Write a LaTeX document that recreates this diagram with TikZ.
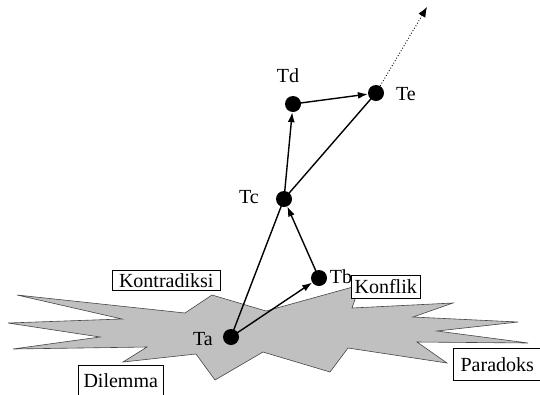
\documentclass[tikz,border=0pt]{standalone}
\usepackage{fontspec}
\setmainfont{Liberation Serif}
\usetikzlibrary{arrows.meta}
\begin{document}
\begin{tikzpicture}[x=1pt,y=-1pt,
  dot/.style={circle,fill=black,inner sep=0pt,minimum size=16pt},
  lbl/.style={font=\fontsize{20}{22}\selectfont,inner sep=0pt},
  tagbox/.style={draw=black,line width=0.5pt,fill=white,font=\fontsize{20}{22}\selectfont,inner sep=0pt,anchor=north west},
  link/.style={line width=1.4pt,-{Latex[length=10pt,width=7pt]}},
  plain/.style={line width=1.4pt},
  lead/.style={line width=0.9pt,dotted,-{Latex[length=10pt,width=8pt]}}]
\useasboundingbox (0,0) rectangle (540,394);
\clip (0,0) rectangle (540,394);
% star-shaped area
\draw[fill={rgb,255:red,192;green,192;blue,192},draw={rgb,255:red,70;green,70;blue,70},line width=0.6pt]
  (17,295) -- (185,313) -- (212,295) -- (266,311) -- (360,285) -- (352,308)
  -- (453,303) -- (413,317) -- (518,322) -- (437,331) -- (528,343) -- (417,342)
  -- (447,363) -- (348,348) -- (330,372) -- (263,352) -- (215,380) -- (196,354)
  -- (123,362) -- (147,347) -- (13,349) -- (100,337) -- (8,323) -- (122,319) -- cycle;
% boxes
\node[tagbox,minimum width=108pt,minimum height=20pt] (kon) at (112,270) {Kontradiksi};
\node[tagbox,minimum width=69pt,minimum height=23pt] (kof) at (351,275) {Konflik};
\node[tagbox,minimum width=85pt,minimum height=36pt,anchor=north west] (dil) at (78,365) {\raisebox{6pt}{Dilemma}};
\node[tagbox,minimum width=88pt,minimum height=32pt] (par) at (453,348) {Paradoks};
% points
\node[dot] (Ta) at (231,337) {};
\node[dot] (Tb) at (319,278) {};
\node[dot] (Tc) at (284,199) {};
\node[dot] (Td) at (293,104) {};
\node[dot] (Te) at (376,93) {};
\coordinate (end) at (427,7);
% labels
\node[lbl] (la) at (203,339) {Ta};
\node[lbl] (lb) at (341,277) {Tb};
\node[lbl] (lc) at (249,197) {Tc};
\node[lbl] (ld) at (288,76) {Td};
\node[lbl] (le) at (406,94) {Te};
% connectors
\draw[plain] (Ta.center) -- (Tc.center);
\draw[plain] (Tc.center) -- (Te.center);
\draw[link] (Ta.center) -- (Tb);
\draw[link] (Tb.center) -- (Tc);
\draw[link] (Tc.center) -- (Td);
\draw[link] (Td.center) -- (Te);
\draw[lead] (Te) -- (end);
\end{tikzpicture}
\end{document}
